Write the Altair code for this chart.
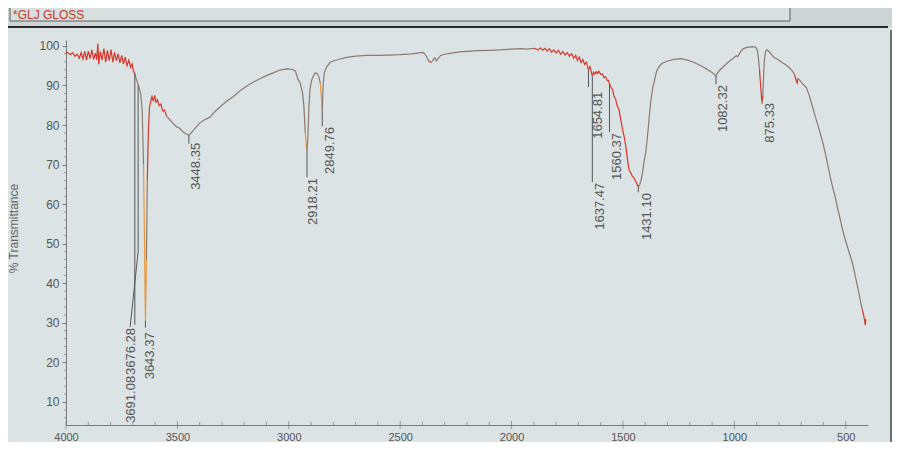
import altair as alt
import pandas as pd

# ---------------- spectrum ----------------
wavenumber = [
    4000, 3990, 3980, 3970, 3960, 3950, 3940, 3932, 3924, 3916, 3908, 3900, 3892, 3884, 3876, 3868,
    3862, 3857, 3853, 3846, 3838, 3830, 3822, 3814, 3806, 3798, 3790, 3782, 3774, 3766, 3758, 3750,
    3742, 3734, 3726, 3718, 3710, 3703, 3698, 3690, 3684, 3678, 3672, 3665, 3658, 3652, 3647, 3643.4,
    3639, 3635, 3630, 3625, 3620, 3614, 3608, 3602, 3596, 3590, 3582, 3574, 3566, 3558, 3548, 3535,
    3520, 3505, 3490, 3475, 3462, 3448.35, 3435, 3420, 3400, 3380, 3354, 3330, 3300, 3275, 3251, 3220,
    3190, 3160, 3130, 3100, 3070, 3040, 3010, 2985, 2970, 2959, 2948, 2938, 2932, 2926, 2921, 2918.21,
    2914, 2910, 2905, 2898, 2890, 2880, 2872, 2864, 2858, 2853, 2849.76, 2846, 2840, 2829, 2815, 2800,
    2770, 2740, 2700, 2650, 2600, 2550, 2500, 2450, 2410, 2395, 2382, 2372, 2360, 2352, 2345, 2338,
    2330, 2318, 2300, 2270, 2233, 2200, 2150, 2100, 2050, 2000, 1960, 1930, 1900, 1880, 1870, 1860,
    1850, 1840, 1830, 1820, 1810, 1800, 1790, 1780, 1770, 1760, 1750, 1740, 1730, 1720, 1712, 1704,
    1696, 1688, 1680, 1672, 1664, 1658, 1654.81, 1648, 1642, 1637.47, 1632, 1626, 1620, 1614, 1608, 1600,
    1592, 1585, 1578, 1570, 1565, 1560.37, 1554, 1546, 1540, 1533, 1526, 1519, 1513, 1507, 1501, 1494,
    1487, 1479, 1472, 1465, 1458, 1450, 1443, 1436, 1431.10, 1425, 1419, 1412, 1405, 1398, 1390, 1382,
    1375, 1366, 1358, 1349, 1335, 1322, 1300, 1270, 1240, 1210, 1180, 1150, 1125, 1105, 1092, 1082.32,
    1075, 1062, 1045, 1025, 1005, 992, 985, 975, 962, 950, 935, 920, 905, 897, 892, 887,
    882, 878, 875.33, 872, 869, 865, 860, 854, 846, 838, 830, 822, 812, 800, 790, 780,
    768, 755, 742, 730, 722, 718, 714, 706, 696, 686, 676, 662, 649, 636, 625, 614,
    604, 592, 580, 570, 559, 548, 535, 524, 514, 502, 490, 479, 469, 460, 450, 444,
    438, 432, 425, 419, 415, 412, 410,
]
transmittance = [
    98.5, 98.2, 97.8, 98.3, 97.4, 97.9, 96.9, 98.3, 96.7, 98.6, 96.4, 98.7, 96.8, 99.0, 96.6, 98.2,
    96.5, 100.6, 95.4, 98.6, 96.4, 99.3, 95.9, 98.9, 96.3, 99.1, 95.9, 98.4, 96.3, 98.0, 95.7, 97.6,
    95.4, 97.2, 95.0, 96.4, 94.6, 95.5, 93.8, 92.8, 91.5, 90.6, 89.5, 88.0, 84.0, 70.0, 48.0, 30.5,
    46.0, 66.0, 79.0, 84.5, 86.0, 87.2, 86.0, 87.5, 85.8, 86.4, 84.9, 85.3, 83.6, 83.8, 82.2, 81.4,
    80.5, 79.6, 79.2, 78.3, 77.8, 77.4, 78.2, 79.2, 80.5, 81.3, 82.0, 83.5, 85.0, 86.2, 87.1, 88.6,
    89.8, 90.8, 91.7, 92.5, 93.2, 93.9, 94.2, 94.1, 93.6, 91.6, 90.5, 88.0, 84.6, 78.0, 74.8, 73.6,
    77.0, 84.0, 88.9, 91.2, 92.4, 93.2, 93.0, 92.0, 90.4, 86.5, 83.0, 90.0, 93.4, 94.8, 95.8, 96.2,
    96.7, 97.1, 97.4, 97.6, 97.6, 97.7, 97.8, 98.0, 98.3, 98.3, 97.4, 96.2, 95.8, 96.5, 97.0, 96.2,
    96.8, 97.6, 97.9, 98.2, 98.5, 98.6, 98.8, 98.9, 99.0, 99.2, 99.3, 99.2, 99.4, 99.0, 99.5, 98.9,
    99.4, 98.7, 99.3, 98.4, 99.0, 98.2, 98.9, 97.9, 98.6, 97.7, 98.3, 97.4, 98.0, 96.9, 97.6, 96.3,
    97.2, 95.8, 96.6, 95.3, 95.9, 94.6, 94.0, 94.8, 93.4, 92.3, 93.4, 92.9, 93.5, 93.0, 93.6, 92.8,
    92.9, 92.0, 92.2, 91.2, 91.3, 90.4, 89.7, 88.9, 87.2, 86.6, 84.8, 84.2, 82.4, 80.5, 78.8, 76.9,
    74.6, 71.0, 68.5, 68.0, 67.1, 66.6, 65.8, 65.0, 64.5, 64.9, 66.0, 68.0, 70.8, 73.0, 77.0, 82.0,
    86.0, 89.5, 91.4, 93.6, 95.0, 95.7, 96.2, 96.6, 96.8, 96.4, 95.8, 95.0, 94.2, 93.5, 92.9, 92.4,
    93.2, 94.1, 95.0, 96.0, 96.9, 97.5, 97.3, 98.3, 99.2, 99.5, 99.7, 99.8, 99.7, 99.0, 97.0, 94.0,
    90.0, 87.0, 85.8, 87.5, 92.0, 96.5, 98.6, 99.0, 98.7, 98.2, 97.6, 97.1, 96.8, 96.4, 96.0, 95.6,
    95.2, 94.6, 93.8, 92.8, 91.2, 90.6, 91.8, 91.3, 90.6, 90.0, 89.4, 87.2, 84.6, 82.0, 80.0, 77.8,
    75.8, 73.0, 69.8, 67.0, 64.4, 62.0, 58.6, 56.0, 53.5, 51.0, 48.8, 46.8, 45.0, 42.6, 40.0, 38.4,
    36.6, 35.0, 33.2, 31.8, 30.5, 29.4, 31.0,
]

# wavenumber ranges drawn in red / orange on the screen
red_ranges = [(4000, 3690), (3630, 3540), (2365, 2355), (1880, 1425), (882, 870), (724, 714), (419, 410)]
orange_ranges = [(3649, 3637), (2922, 2915), (2853, 2847)]

# peak labels: text, text position (wavenumber), top of text (%T)
peak_text = ["3691.08", "3676.28", "3643.37", "3448.35", "2918.21", "2849.76",
             "1654.81", "1637.47", "1560.37", "1431.10", "1082.32", "875.33"]
peak_text_x = [3710, 3708, 3622, 3417, 2892, 2816, 1613, 1604, 1528, 1393, 1053, 842]
peak_text_top = [16.6, 28.7, 27.6, 75.5, 66.6, 79.5, 88.4, 65.4, 78.0, 62.8, 90.1, 85.6]

# leader lines (from peak to label)
leader_x1 = [3691.08, 3676.28, 3676.28, 3643.37, 3448.35, 2918.21, 2849.76, 1654.81, 1637.47, 1560.37, 1431.10, 1082.32, 875.33]
leader_y1 = [93.0, 90.0, 48.0, 30.5, 77.4, 73.6, 83.0, 94.0, 92.3, 90.4, 64.5, 92.4, 85.8]
leader_x2 = [3691.08, 3676.28, 3712.0, 3643.37, 3448.35, 2918.21, 2849.76, 1654.81, 1637.47, 1560.37, 1431.10, 1082.32, 875.33]
leader_y2 = [29.5, 48.0, 29.0, 28.8, 75.3, 66.8, 79.7, 89.6, 65.6, 78.2, 63.0, 90.3, 85.4]

x_major = list(range(500, 4001, 500))
x_minor = [v for v in range(500, 4001, 100) if v % 500 != 0]
y_major = list(range(10, 101, 10))
y_minor = [v for v in range(6, 101, 2) if v % 10 != 0]


def tone_of(w):
    for a, b in orange_ranges:
        if b <= w <= a:
            return "orange"
    for a, b in red_ranges:
        if b <= w <= a:
            return "red"
    return "gray"


rows = []
seg = 0
prev = None
for i, (w, t) in enumerate(zip(wavenumber, transmittance)):
    tn = tone_of(w)
    if prev is not None and tn != prev[2]:
        seg += 1
        rows.append({"wn": prev[0], "T": prev[1], "tone": tn, "seg": seg, "order": i - 0.5})
    rows.append({"wn": w, "T": t, "tone": tn, "seg": seg, "order": i})
    prev = (w, t, tn)
spec = pd.DataFrame(rows)

labels = pd.DataFrame({"text": peak_text, "x": peak_text_x, "top": peak_text_top})
leaders = pd.DataFrame({"x": leader_x1, "y": leader_y1, "x2": leader_x2, "y2": leader_y2})
xmaj_df = pd.DataFrame({"v": x_major})
xmin_df = pd.DataFrame({"v": x_minor})
ymin_df = pd.DataFrame({"v": y_minor})
one = pd.DataFrame({"a": [0]})

FONT = "Liberation Sans, Arial, sans-serif"
W, H = 802, 385
AXIS = "#7a7a7a"

xscale = alt.Scale(domain=[400, 4000], reverse=True, nice=False, zero=False)
yscale = alt.Scale(domain=[4.18, 101.5], nice=False, zero=False)

x_axis = alt.Axis(
    values=x_major, labelOverlap=False, labelFlush=False, grid=False, title=None,
    ticks=False, format="d", labelFontSize=11, labelColor="#555555", labelFont=FONT,
    domainColor=AXIS, labelPadding=6,
)
y_axis = alt.Axis(
    values=y_major, labelOverlap=False, labelFlush=False, grid=False,
    tickSize=4, format="d", labelFontSize=12, labelColor="#555555", labelFont=FONT,
    domainColor=AXIS, tickColor=AXIS, labelPadding=3,
    title="% Transmittance", titleFont=FONT, titleFontSize=12, titleFontWeight="normal",
    titleColor="#666666", titleAngle=270, titleX=-53, titleY=188,
    titleAlign="center", titleBaseline="middle",
)

# ---------------- decorations of the screen ----------------
header_bg = alt.Chart(one).mark_rect(color="#cdd4d5").encode(
    x=alt.value(-66), x2=alt.value(834), y=alt.value(-45), y2=alt.value(-13))
header_box = alt.Chart(one).mark_rect(fill="#d8dfdf", stroke="#5a5f60", strokeWidth=1).encode(
    x=alt.value(-56), x2=alt.value(724), y=alt.value(-42), y2=alt.value(-19))
header_text = alt.Chart(one).mark_text(
    text="*GLJ GLOSS", align="left", baseline="middle", fontSize=12, font=FONT, color="#c0392b"
).encode(x=alt.value(-53), y=alt.value(-25))
panel_top = alt.Chart(one).mark_rule(color="#2a2a2a", strokeWidth=2).encode(
    x=alt.value(-66), x2=alt.value(822), y=alt.value(-13))
panel_right = alt.Chart(one).mark_rule(color="#6a6f70", strokeWidth=2).encode(
    x=alt.value(825), y=alt.value(-10), y2=alt.value(410))

# ---------------- axis tick layers ----------------
x_minor_ticks = alt.Chart(xmin_df).mark_tick(color=AXIS, thickness=1, size=3).encode(
    x=alt.X("v:Q", scale=xscale), y=alt.value(H - 1.5))
x_major_ticks = alt.Chart(xmaj_df).mark_tick(color=AXIS, thickness=1, size=8).encode(
    x=alt.X("v:Q", scale=xscale), y=alt.value(H))
y_minor_ticks = alt.Chart(ymin_df).mark_tick(color=AXIS, thickness=1, size=2).encode(
    y=alt.Y("v:Q", scale=yscale), x=alt.value(-1))

# ---------------- data layers ----------------
line = alt.Chart(spec).mark_line(strokeWidth=1.2).encode(
    x=alt.X("wn:Q", scale=xscale, axis=x_axis),
    y=alt.Y("T:Q", scale=yscale, axis=y_axis),
    color=alt.Color("tone:N", scale=alt.Scale(domain=["gray", "red", "orange"],
                                              range=["#8c7a72", "#d6362b", "#e8963a"]), legend=None),
    detail="seg:N",
    order="order:Q",
)

leader_rules = alt.Chart(leaders).mark_rule(color="#555555", strokeWidth=1).encode(
    x=alt.X("x:Q", scale=xscale), y=alt.Y("y:Q", scale=yscale),
    x2="x2:Q", y2="y2:Q",
)

label_text = alt.Chart(labels).mark_text(
    angle=270, align="right", baseline="middle", fontSize=13, font=FONT, color="#555555"
).encode(
    x=alt.X("x:Q", scale=xscale), y=alt.Y("top:Q", scale=yscale), text="text:N",
)

chart = alt.layer(
    header_bg, header_box, header_text, panel_top, panel_right,
    line, x_minor_ticks, x_major_ticks, y_minor_ticks, leader_rules, label_text,
).properties(
    width=W, height=H,
    autosize=alt.AutoSizeParams(type="none"),
    padding={"left": 58, "top": 32, "right": 24, "bottom": 17},
    background="#dce3e4",
).configure_view(stroke=None)

chart.save("out.html", embed_options={"renderer": "svg", "actions": False})
